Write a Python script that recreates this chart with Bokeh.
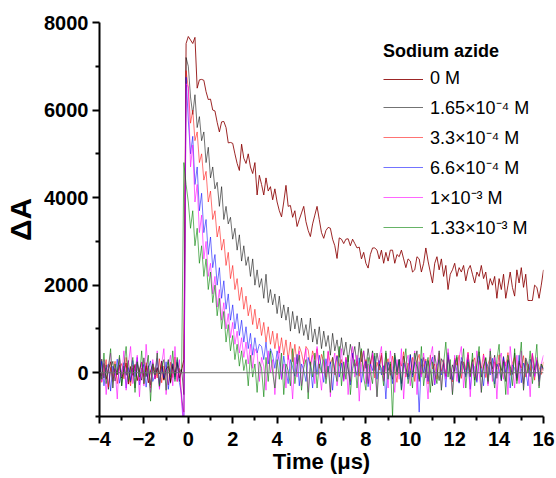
from bokeh.plotting import figure
from bokeh.models import Span, Legend, LegendItem, FixedTicker
from bokeh.embed import file_html
from bokeh.resources import INLINE

# ---- data ----
t_start, t_step, n_points = -4.0, 0.1, 201
time_us = [round(t_start + t_step * i, 1) for i in range(n_points)]

labels = ["0 M", "1.65×10⁻⁴ M", "3.3×10⁻⁴ M", "6.6×10⁻⁴ M", "1×10⁻³ M", "1.33×10⁻³ M"]

s_0M = [
    120, -80, 210, -150, 60, 250, -200, 90, -40, 180,
    -120, 30, 220, -260, 140, -60, 190, -180, 70, 240,
    -90, 160, -230, 40, 200, -140, 110, -30, 260, -170,
    80, 150, -210, 190, -60, 230, -120, 60,
    300, 7520,
    7680, 7600, 7520, 7660, 6500, 6690, 6700, 6680, 6420, 6240,
    6250, 6000, 5980, 5720, 5500, 5730, 5740, 5600, 5250, 5260,
    5240, 5000, 4780, 4620, 5220, 4900, 4780, 5000, 4700, 4550,
    4800, 4060, 4510, 4300, 4060, 4450, 4150, 4250, 3950, 4200,
    3900, 3700, 3560, 3900, 4280, 3800, 3820, 3550, 3700, 3340,
    3500, 3650, 3800, 3450, 3250, 3110, 3400, 3600, 3800, 3500,
    3200, 3070, 3250, 3320, 3300, 3050, 2900, 2610, 3080, 3050,
    2950, 3050, 3060, 2900, 3050, 2950, 2850, 2870, 2600, 2750,
    2500, 2390, 2700, 2850, 2850, 2800, 2600, 2800, 2500, 2750,
    2550, 2800, 2800, 2500, 2700, 2650, 2800, 2600, 2400, 2600,
    2550, 2300, 2350, 2650, 2600, 2300, 2500, 2850, 2550, 2300,
    2050, 2500, 2650, 2350, 2600, 2200, 2450, 1900, 2250, 2350,
    2500, 2200, 2400, 2300, 2450, 2100, 2350, 2450, 2250, 2050,
    2300, 2200, 2450, 2150, 2300, 1900, 2150, 2000, 2200, 1700,
    2150, 1900, 2250, 1700, 2000, 2300, 1950, 1750, 2350, 2050,
    2400, 1950, 2250, 1650, 1650, 1650, 2000, 1950, 1700, 2000,
    2350,
]

s_165e4 = [
    -250, 310, -120, 180, -380, 90, 260, -190, 40, 330,
    -300, 150, -60, 280, -220, 110, -350, 200, 20, -170,
    340, -90, 160, -280, 230, -40, 120, -330, 270, -150,
    60, 300, -240, 140, -100, 250, -200, 80,
    -500, 7200,
    7000,
    6300, 5900, 6350, 5600, 5850, 5300, 5500, 4800, 5150, 4450,
    4700, 4200, 4350, 3800, 4250, 3500, 3800, 3400, 3550, 3050,
    3300, 2800, 3150, 2550, 2900, 2450, 2650, 2200, 2600, 2000,
    2350, 1950, 2150, 1700, 2250, 1600, 1900, 1550, 1800, 1350,
    1750, 1250, 1550, 1200, 1500, 950, 1400, 1000, 1300, 900,
    1250, 850, 1100, 750, 1250, 700, 1000, 650, 1050, 550,
    950, 600, 850, 400, 900, 500, 750, 350, 800, 400,
    700, 250, 650, 350, 600, 150, 700, 250, 500, 100,
    550, 200, 500, 50, 450, 150, 400, -50, 450, 50,
    200, -150, 450, 50, 300, -250, 380, 120, -100, 420,
    -50, 250, 500, -200, 150, 350, -120, 280, 60, -300,
    400, 100, -180, 320, 220, -80, 460, -150, 180, 30,
    350, -220, 260, 120, -60, 410, 0, 300, -170, 200,
    480, -100, 150, 330, -250, 250, 90, 400, -130, 220,
    50, 370, -200, 300, 140, -40, 450, -180, 230, 100,
    -260, 340, 180, -90, 420, 60, 280, -150, 200, 50,
]

s_33e4 = [
    180, -220, 50, 300, -330, 120, -80, 260, -250, 90,
    210, -140, 350, -60, -300, 170, 40, 280, -190, 110,
    -260, 230, 10, -350, 190, 70, -120, 320, -230, 150,
    30, -280, 240, -110, 360, -200, 100, -600,
    -900, 6900,
    6500,
    5700, 6000, 5300, 5500, 4800, 5000, 4400, 4600, 3900, 4150,
    3500, 3700, 3100, 3350, 2800, 3050, 2450, 2750, 2150, 2450,
    1900, 2150, 1650, 1950, 1450, 1750, 1300, 1550, 1100, 1450,
    1000, 1250, 850, 1150, 700, 1050, 650, 950, 550, 900,
    450, 800, 400, 750, 300, 700, 250, 650, 200, 600,
    450, 200, 600, 520, 150, 500, 300, 550, 100, 420,
    250, -100, 480, 200, 350, -50, 400, 150, 300, -150,
    350, 80, -200, 420, 150, 260, -80, 500, 30, 300,
    -250, 180, 400, -120, 240, 60, 450, -180, 200, 320,
    -60, 380, 100, -220, 300, 150, 480, -100, 220, 50,
    350, -200, 260, 420, -40, 180, 310, -260, 400, 90,
    200, -150, 450, 30, 280, -90, 360, 120, -210, 330,
    170, 400, -130, 250, 60, 470, -70, 220, 340, -180,
    280, 100, 430, -110, 190, 360, -30, 250, 80, 410,
    -190, 300, 150, 460, -60, 220, 350, -140, 270, 110,
    390, -100, 200, 50, 440, -170, 300, 130, -40, 250,
]

s_66e4 = [
    -150, 260, -300, 80, 200, -420, 150, -60, 310, -240,
    40, 230, -350, 120, -180, 280, -90, 350, -280, 60,
    190, -330, 100, 270, -200, -50, 330, -260, 140, -120,
    250, -380, 70, 210, -150, 300, -230, -500,
    -1300, 6750,
    5770,
    5000, 5400, 4300, 4700, 3700, 4100, 3200, 3500, 2700, 3100,
    2400, 2700, 2000, 2400, 1700, 2100, 1450, 1800, 1200, 1550,
    1000, 1350, 850, 1200, 700, 1050, 550, 900, 400, 800,
    450, 650, 600, 300, 700, 200, 550, 400, 100, 500,
    250, -150, 380, 50, -250, 300, 120, -80, 420, -300,
    200, 60, -200, 350, 150, -350, 280, -40, 400, 100,
    -220, 320, 0, 250, -400, 180, 380, -100, 220, -180,
    300, 80, -280, 450, 120, -60, 340, -220, 150, 260,
    -320, 200, 50, 380, -150, 280, -50, 160, -600, 240,
    100, -250, 350, 20, 300, -380, 220, 60, -150, 400,
    -100, 250, 140, -900, 320, 0, 270, -200, 180, 360,
    -280, 150, 300, -50, 230, -330, 410, 80, -160, 290,
    40, -240, 350, 170, -100, 300, -380, 200, 120, -220,
    380, 60, -300, 250, 150, -50, 330, -260, 200, 80,
    -180, 350, 0, 280, -350, 180, 100, -120, 400, -230,
    220, 50, -300, 310, 140, -80, 260, -200, 150, 90,
]

s_1e3 = [
    550, -200, 300, -500, 150, 450, -350, 100, -600, 350,
    -100, 500, -400, 200, 600, -250, 50, 400, -550, 250,
    -300, 650, 0, -450, 300, -150, 500, -380, 200, 550,
    -500, 150, 400, -300, 600, -200, 300, -700,
    -1300, 6600,
    6530,
    4700, 5200, 3900, 4300, 3200, 3600, 2600, 3000, 2200, 2500,
    1800, 2200, 1500, 1900, 1200, 1600, 1000, 1350, 800, 1150,
    650, 950, 450, 800, 350, 700, 200, 650, 100, 550,
    450, -200, 350, 150, -400, 500, 0, 300, -500, 250,
    600, -150, 200, -350, 400, 100, -600, 350, -100, 500,
    -300, 250, 550, -450, 150, 400, -250, 600, 50, -400,
    300, -150, 500, -550, 200, 450, -300, 100, 550, -200,
    350, -500, 250, 600, -100, 400, -650, 150, 500, -250,
    200, -400, 450, 50, -550, 350, 600, -200, 250, -350,
    500, 100, -450, 300, -150, 550, -600, 200, 400, -300,
    150, 500, -500, 250, -100, 450, 0, -600, 350, 600,
    -250, 200, 500, -400, 300, -150, 550, 100, -500, 400,
    -200, 350, 600, -350, 150, 450, -550, 250, -100, 500,
    0, -450, 400, 200, -300, 550, -200, 350, -600, 300,
    450, -150, 250, -500, 600, 100, -350, 400, -250, 500,
    -400, 300, 150, -550, 450, -100, 350, -300, 200, 400,
]

s_133e3 = [
    300, -150, 450, -250, 100, 550, -350, 200, -50, 400,
    -300, 150, 600, -200, 50, 350, -450, 250, -100, 500,
    -250, 100, 400, -650, 200, -50, 450, -300, 150, 300,
    -400, 250, -100, 500, -200, 350, 0, 100,
    4800, 4300,
    3900, 3300, 3700, 2900, 3300, 2500, 2900, 2200, 2600, 1900,
    2300, 1600, 2000, 1300, 1700, 1000, 1400, 700, 1100, 500,
    850, 300, 650, 150, 500, 50,
    300, -300, 400, -100, 200,
    -450, 250, 100, -550, 350, -200, 500, 0, -350, 300,
    -150, 450, -500, 200, 50, -300, 550, -250, 150, 400,
    -400, 100, 300, -600, 250, -100, 450, -350, 200, 0,
    500, -250, 150, -450, 350, 50, -200, 600, -300, 250,
    -150, 400, -500, 100, 300, -350, 200, 550, -100, -400,
    350, 0, -250, 450, -550, 200, 100, -300, 500, -150,
    250, -1000, 400, -50, 300, -400, 150, 550, -250, 50,
    -350, 450, 200, -150, 600, -300, 100, 350, -450, 250,
    0, -250, 500, -400, 200, 700, -100, 300, -500, 150,
    400, -200, 50, 550, -350, 250, -100, 450, -300, 200,
    600, -450, 150, 350, -200, 500, 0, -350, 300, 650,
    -150, 250, -500, 400, 100, -300, 550, -250, 200, 700,
    -400, 300, 0, 500, -250, 150, 650, -350, 200, 100,
]

series = [s_0M, s_165e4, s_33e4, s_66e4, s_1e3, s_133e3]
colors = ["#8B0000", "#000000", "#FF0000", "#0000FF", "#FF00FF", "#008000"]
alphas = [0.85, 0.55, 0.55, 0.55, 0.6, 0.6]

x_ticks = [-4, -2, 0, 2, 4, 6, 8, 10, 12, 14, 16]
x_minor = [-3, -1, 1, 3, 5, 7, 9, 11, 13, 15]
y_ticks = [0, 2000, 4000, 6000, 8000]
y_minor = [-1000, 1000, 3000, 5000, 7000]

# ---- figure ----
p = figure(width=556, height=478, x_range=(-4, 16), y_range=(-1000, 8000),
           output_backend="svg", toolbar_location=None,
           min_border_left=99, min_border_right=13, min_border_top=22,
           min_border_bottom=62)
p.outline_line_color = None
p.xgrid.visible = False
p.ygrid.visible = False
p.background_fill_color = "white"

items = []
for lab, ys, c, a in zip(labels, series, colors, alphas):
    r = p.line(time_us[:len(ys)], ys, line_color=c, line_alpha=a, line_width=1)
    items.append(LegendItem(label=lab, renderers=[r]))

p.add_layout(Span(location=0, dimension="width", line_color="#707070", line_width=1))

FONT = "Liberation Sans"
for ax in (p.xaxis[0], p.yaxis[0]):
    ax.axis_line_width = 2
    ax.axis_line_color = "black"
    ax.major_tick_line_width = 2
    ax.minor_tick_line_width = 2
    ax.major_tick_out = 7
    ax.major_tick_in = 0
    ax.minor_tick_out = 4
    ax.minor_tick_in = 0
    ax.major_label_text_font = FONT
    ax.major_label_text_font_style = "bold"
    ax.major_label_text_font_size = "20px"
    ax.major_label_text_color = "black"
    ax.axis_label_text_font = FONT
    ax.axis_label_text_font_style = "bold"
    ax.axis_label_text_color = "black"

p.xaxis.ticker = FixedTicker(ticks=x_ticks, minor_ticks=x_minor)
p.yaxis.ticker = FixedTicker(ticks=y_ticks, minor_ticks=y_minor)
p.xaxis.axis_label = "Time (μs)"
p.xaxis.axis_label_text_font_size = "22px"
p.xaxis.axis_label_standoff = 0
p.xaxis.major_label_standoff = 8
p.yaxis.axis_label = "ΔA"
p.yaxis.axis_label_text_font_size = "30px"
p.yaxis.axis_label_standoff = 4
p.yaxis.major_label_standoff = 4

legend = Legend(items=items, title="Sodium azide", location=(284, 177),
                title_text_font=FONT, title_text_font_style="bold",
                title_text_font_size="18px", title_text_color="black",
                label_text_font=FONT, label_text_font_size="18px",
                label_text_color="black",
                glyph_width=40, glyph_height=20, label_height=20,
                spacing=6, padding=0, margin=0, label_standoff=7,
                title_standoff=6,
                border_line_color=None, background_fill_alpha=0)
p.add_layout(legend)

open("out.html", "w").write(file_html(p, INLINE))
